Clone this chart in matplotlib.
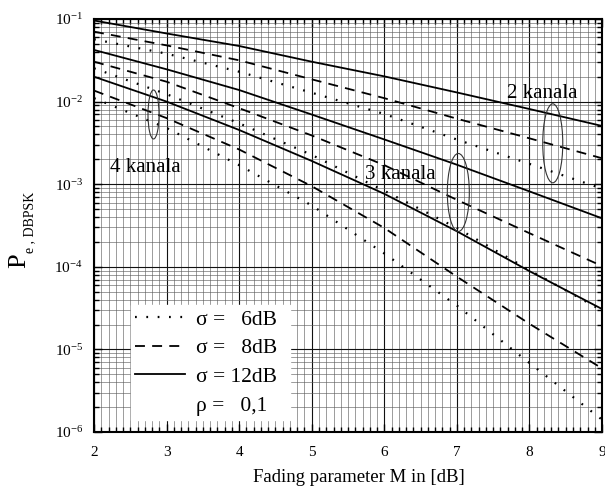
import numpy as np
import matplotlib
matplotlib.use("Agg")
import matplotlib.pyplot as plt
from matplotlib.lines import Line2D
from matplotlib.patches import Ellipse
from matplotlib.ticker import MultipleLocator, LogLocator, NullFormatter

plt.rcParams["font.family"] = ["Liberation Serif", "DejaVu Serif"]
plt.rcParams["mathtext.fontset"] = "custom"
plt.rcParams["mathtext.rm"] = "Liberation Serif"
plt.rcParams["mathtext.default"] = "regular"

# fading parameter M [dB]
M = [2, 3, 4, 5, 6, 7, 8, 9]

# P_e for 2 channels (sigma = 6, 8, 12 dB)
p2_s6 = [0.0568, 0.0380, 0.0230, 0.0128, 0.00708, 0.00347, 0.00176, 0.000883]
p2_s8 = [0.0702, 0.0479, 0.0316, 0.0186, 0.0110, 0.00621, 0.00359, 0.00206]
p2_s12 = [0.0959, 0.0668, 0.0471, 0.0304, 0.0202, 0.0129, 0.00813, 0.00507]

# 3 channels
p3_s6 = [0.0253, 0.0123, 0.00546, 0.00226, 0.000832, 0.000295, 0.0000912, 0.0000295]
p3_s8 = [0.0304, 0.0174, 0.00832, 0.00389, 0.00170, 0.000646, 0.000255, 0.000102]
p3_s12 = [0.0422, 0.0246, 0.0138, 0.00697, 0.00348, 0.00172, 0.000818, 0.000386]

# 4 channels
p4_s6 = [0.0110, 0.00479, 0.00170, 0.000552, 0.000145, 0.0000339, 0.00000684, 0.00000141]
p4_s8 = [0.0136, 0.00631, 0.00263, 0.000946, 0.000295, 0.0000759, 0.0000204, 0.00000589]
p4_s12 = [0.0200, 0.0100, 0.00453, 0.00191, 0.000764, 0.000269, 0.0000885, 0.0000308]

legend_labels = ["\u03c3 =   6dB", "\u03c3 =   8dB", "\u03c3 = 12dB", "\u03c1 =   0,1"]

dotted = dict(color="black", lw=1.6, dashes=(0.8, 4.3), dash_capstyle="butt")
dashed = dict(color="black", lw=1.3, dashes=(5.5, 4.0), dash_capstyle="butt")
solid = dict(color="black", lw=1.3)

fig = plt.figure(figsize=(6.05, 4.92), dpi=100)
ax = fig.add_axes([0.1554, 0.122, 0.8397, 0.8394])

for s6, s8, s12 in [(p2_s6, p2_s8, p2_s12), (p3_s6, p3_s8, p3_s12), (p4_s6, p4_s8, p4_s12)]:
    ax.semilogy(M, s6, **dotted, zorder=3)
    ax.semilogy(M, s8, **dashed, zorder=3)
    ax.semilogy(M, s12, **solid, zorder=3)

ax.set_xlim(2, 9)
ax.set_ylim(1e-6, 1e-1)
ax.xaxis.set_major_locator(MultipleLocator(1))
ax.xaxis.set_minor_locator(MultipleLocator(0.1))
ax.yaxis.set_major_locator(LogLocator(base=10, numticks=10))
ax.yaxis.set_minor_locator(LogLocator(base=10, subs=np.arange(2, 10), numticks=20))
ax.yaxis.set_minor_formatter(NullFormatter())

ax.grid(which="major", color="#111111", lw=0.8)
ax.grid(which="minor", color="#5a5a5a", lw=0.42)
ax.set_axisbelow(True)

ax.tick_params(which="both", direction="in", top=True, right=True, labelsize=11, width=1.0)
ax.tick_params(which="major", length=6)
ax.tick_params(axis="x", which="major", pad=10)
ax.tick_params(axis="y", which="major", pad=8)
ax.tick_params(which="minor", length=3.5)
for sp in ax.spines.values():
    sp.set_linewidth(1.5)

ax.set_xlabel("Fading parameter M in [dB]", fontsize=13.5)
ax.xaxis.set_label_coords(0.522, -0.09)
fig.text(0.031, 0.471, "P", rotation=90, fontsize=19, ha="center", va="center")
fig.text(0.049, 0.548, "e , DBPSK", rotation=90, fontsize=10, ha="center", va="center")

# channel annotations
ax.text(2.22, 1.42e-3, "4 kanala", fontsize=15, va="baseline")
ax.text(5.733, 1.145e-3, "3 kanala", fontsize=15, va="baseline")
ax.text(7.693, 1.114e-2, "2 kanala", fontsize=15, va="baseline")
for cx, cy, w, h in [(0.1171, 0.7688, 0.0217, 0.1186),
                     (0.7171, 0.5799, 0.0433, 0.1889),
                     (0.9030, 0.6990, 0.0394, 0.1913)]:
    ax.add_patch(Ellipse((cx, cy), w, h, transform=ax.transAxes, fill=False,
                         ec="#333333", lw=0.8, zorder=4))

handles = [Line2D([], [], **dotted), Line2D([], [], **dashed),
           Line2D([], [], **solid), Line2D([], [], color="none")]
leg = ax.legend(handles, legend_labels, loc="lower left",
                bbox_to_anchor=(0.073, 0.029, 0.313, 0.288), mode="expand",
                fontsize=15.5, frameon=True, fancybox=False, edgecolor="white",
                framealpha=1.0, handlelength=2.3, handletextpad=0.5,
                labelspacing=0.4, borderpad=0.2, borderaxespad=0)

fig.savefig("out.png", dpi=100)
